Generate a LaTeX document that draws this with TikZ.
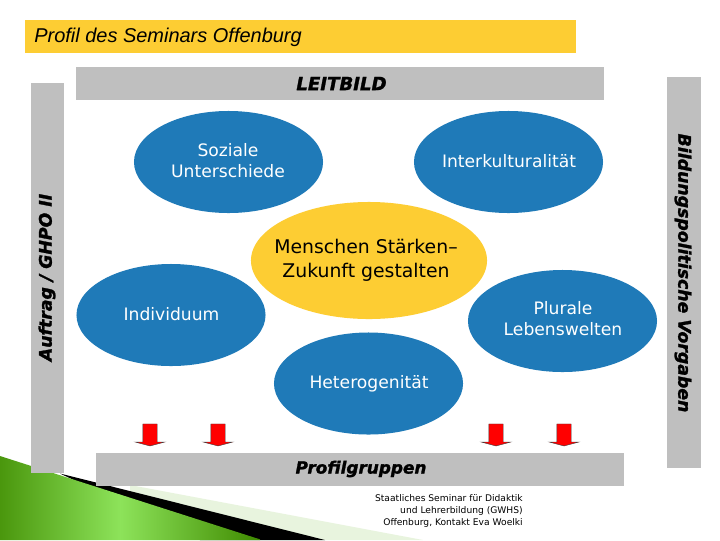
\documentclass[tikz,border=0pt]{standalone}
\usepackage{fontspec}
\setmainfont{DejaVu Sans}
\newfontfamily\titlefont{Liberation Sans}
\newfontfamily\barfont[FakeBold=1.5]{DejaVu Sans}
\usetikzlibrary{shapes.geometric,shapes.arrows}
\definecolor{seminarblue}{HTML}{1F7AB8}
\definecolor{seminaryellow}{HTML}{FDCD33}
\definecolor{bargrey}{HTML}{BFBFBF}
\definecolor{darkgreen}{HTML}{3F8A00}
\definecolor{brightgreen}{HTML}{8DE35A}
\definecolor{palegreen}{HTML}{E8F4DE}
\tikzset{
  blueoval/.style={ellipse,fill=seminarblue,inner sep=0pt,minimum width=4.725cm,minimum height=2.55cm},
  yellowoval/.style={ellipse,fill=seminaryellow,inner sep=0pt,minimum width=5.9cm,minimum height=2.925cm},
  ovaltext/.style={font=\fontsize{12.2}{14.9}\selectfont,align=center,text=white},
  redarrow/.style={single arrow,fill=red,draw=black!75,line width=0.3pt,rotate=-90,minimum height=0.55cm,inner xsep=0pt,inner ysep=0.175cm,single arrow head extend=0.19cm,single arrow tip angle=150}
}
\begin{document}
\begin{tikzpicture}[x=0.025cm,y=-0.025cm]
    \useasboundingbox (0,0) rectangle (720,540);
    \fill[white] (0,0) rectangle (720,540);

    \fill[palegreen] (130,485) -- (423,540) -- (130,540) -- cycle;
    \fill[black] (60,473.5) -- (325,540) -- (200,540) -- cycle;
    \begin{scope}
        \clip (0,456) -- (262,540) -- (0,540) -- cycle;
        \shade[left color=darkgreen,right color=darkgreen,middle color=brightgreen] (-20,450) rectangle (260,545);
    \end{scope}

    \fill[seminaryellow] (25,20) rectangle (576,53);
    \node[font=\titlefont\itshape\fontsize{14.2}{16}\selectfont,anchor=west,inner sep=0pt] (titel) at (34,37.5) {Profil des Seminars Offenburg};

    \fill[bargrey] (76,67) rectangle (604,100);
    \fill[bargrey] (31,83) rectangle (64,473);
    \fill[bargrey] (667,77) rectangle (701,468);
    \fill[bargrey] (96,453) rectangle (624,486);

    \node[font=\barfont\bfseries\itshape\fontsize{12.9}{15}\selectfont] (leitbild) at (341.5,83.5) {LEITBILD};
    \node[font=\barfont\bfseries\itshape\fontsize{12}{15}\selectfont] (profil) at (361,469) {Profilgruppen};
    \node[font=\barfont\bfseries\itshape\fontsize{12.3}{15}\selectfont,rotate=90] (auftrag) at (47,277.5) {Auftrag / GHPO II};
    \node[font=\barfont\bfseries\itshape\fontsize{12.3}{15}\selectfont,rotate=-90] (vorgaben) at (683,273) {Bildungspolitische Vorgaben};

    \node[blueoval] (soziale) at (228.5,162) {};
    \node[blueoval] (inter) at (508.5,162) {};
    \node[blueoval] (indiv) at (171,315) {};
    \node[blueoval] (plural) at (562.5,321) {};
    \node[blueoval] (hetero) at (368.5,383.5) {};
    \node[yellowoval] (mitte) at (369,260.5) {};

    \node[ovaltext] (sozialetext) at (228,160.5) {Soziale\\Unterschiede};
    \node[ovaltext] (intertext) at (509,161) {Interkulturalität};
    \node[ovaltext] (indivtext) at (171.5,314) {Individuum};
    \node[ovaltext] (pluraltext) at (563,318.5) {Plurale\\Lebenswelten};
    \node[ovaltext] (heterotext) at (369,383.5) {Heterogenität};
    \node[font=\fontsize{13.4}{17}\selectfont,align=center] (mittetext) at (366,260.5) {Menschen Stärken--\\Zukunft gestalten};

    \node[redarrow] (pfeila) at (150,434) {};
    \node[redarrow] (pfeilb) at (218,434) {};
    \node[redarrow] (pfeilc) at (496,434) {};
    \node[redarrow] (pfeild) at (564,434) {};

    \node[font=\fontsize{6.5}{8.6}\selectfont,align=right,anchor=north east,inner sep=0pt] (fuss) at (523,494) {Staatliches Seminar für Didaktik\\und Lehrerbildung (GWHS)\\Offenburg, Kontakt Eva Woelki};
\end{tikzpicture}
\end{document}
